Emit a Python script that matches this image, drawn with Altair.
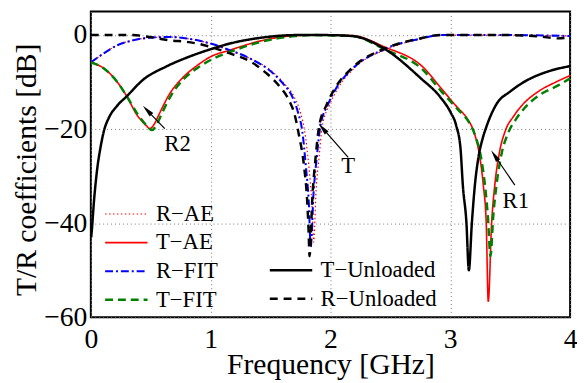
import altair as alt
import pandas as pd

FONT = "Times New Roman"
MINUS = "\u2212"

# ---------------- data ----------------
# T-Unloaded (black solid)
tu_f = [0.003, 0.01, 0.025, 0.052, 0.08, 0.11, 0.15, 0.217, 0.30, 0.436, 0.628, 0.82, 1.0, 1.16, 1.44, 1.71, 1.96, 2.18, 2.45, 2.75, 2.92, 3.0, 3.05, 3.085, 3.105, 3.135, 3.155, 3.18, 3.205, 3.235, 3.27, 3.30, 3.385, 3.5, 3.6, 3.82, 4.0]
tu_db = [-43, -41, -35.7, -28.7, -24, -20.3, -17.6, -15.1, -13, -9.5, -6.7, -4.6, -3.0, -1.8, -0.5, 0, 0, -0.2, -2.9, -9.1, -13.3, -16.3, -19.3, -24, -32, -40, -50, -40, -32, -26, -22, -19.6, -14.7, -12.0, -10.2, -7.7, -6.6]

# R-Unloaded (black dashed)
ru_f = [0, 0.35, 0.49, 0.655, 0.82, 1.0, 1.16, 1.33, 1.465, 1.575, 1.657, 1.70, 1.735, 1.78, 1.805, 1.818, 1.825, 1.85, 1.876, 1.904, 1.97, 2.04, 2.18, 2.45, 2.73, 2.92, 3.5, 3.75, 3.9, 4.0]
ru_db = [0, 0, -0.4, -1.1, -1.5, -2.5, -3.9, -5.6, -8.1, -10.9, -14, -16.8, -21, -28, -35, -42, -47, -34, -26, -19.6, -14.7, -11.2, -7.0, -2.9, -0.8, 0, 0, -0.3, -0.7, -0.5]

# T-AE (red solid)
ta_f = [0, 0.107, 0.217, 0.30, 0.38, 0.465, 0.49, 0.53, 0.57, 0.655, 0.765, 0.875, 1.0, 1.16, 1.44, 1.71, 1.85, 2.18, 2.45, 2.78, 2.92, 3.06, 3.14, 3.193, 3.24, 3.276, 3.30, 3.317, 3.345, 3.371, 3.41, 3.46, 3.53, 3.6, 3.74, 3.88, 4.0]
ta_db = [-5.8, -7.05, -9.85, -13, -16.8, -19.3, -19.9, -18.9, -16.8, -12.6, -9.1, -6.7, -4.6, -3.2, -1.1, -0.1, 0, -0.1, -2.5, -7.0, -11.2, -15.4, -17.7, -20.3, -25, -32, -40, -56.6, -40, -32, -25, -20.3, -17.2, -14.9, -11.9, -10.0, -8.6]

# T-FIT (green dashed)
tf_f = [0, 0.107, 0.217, 0.30, 0.39, 0.48, 0.51, 0.55, 0.59, 0.675, 0.785, 0.895, 1.0, 1.16, 1.44, 1.71, 1.85, 2.18, 2.45, 2.78, 2.92, 3.07, 3.15, 3.21, 3.26, 3.29, 3.315, 3.335, 3.36, 3.385, 3.43, 3.48, 3.55, 3.62, 3.76, 3.9, 4.0]
tf_db = [-5.8, -7.05, -9.85, -13, -16.8, -19.6, -20.2, -19.0, -16.8, -12.6, -9.1, -6.9, -5.3, -3.6, -1.3, -0.2, 0, -0.2, -3.0, -7.6, -11.8, -16.0, -18.3, -21.5, -26.5, -32, -39, -47, -38, -32, -25, -21, -17.8, -15.5, -12.5, -10.7, -9.2]

# R-FIT (blue dash-dot)
rf_f = [0, 0.107, 0.217, 0.354, 0.49, 0.655, 0.82, 1.0, 1.16, 1.33, 1.52, 1.60, 1.685, 1.73, 1.765, 1.795, 1.82, 1.835, 1.86, 1.886, 1.914, 1.98, 2.05, 2.19, 2.46, 2.74, 2.93, 3.5, 4.0]
rf_db = [-5.8, -3.9, -2.2, -1.1, -0.55, -0.4, -0.8, -1.8, -3.2, -5.0, -8.1, -10.2, -13.3, -16.5, -20.5, -28, -36, -45, -33, -26, -19.6, -14.7, -11.2, -7.0, -2.9, -0.8, 0, 0, -0.2]

# R-AE (red dotted)
ra_f = [0, 0.107, 0.217, 0.354, 0.49, 0.655, 0.82, 1.0, 1.16, 1.33, 1.53, 1.61, 1.70, 1.75, 1.785, 1.82, 1.845, 1.86, 1.88, 1.905, 1.93, 1.995, 2.065, 2.2, 2.48, 2.76, 2.95, 3.5, 4.0]
ra_db = [-5.8, -3.9, -2.2, -1.1, -0.55, -0.4, -0.8, -1.8, -3.2, -5.0, -8.1, -10.2, -13.3, -16.5, -20.5, -28, -36, -44, -33, -26, -19.6, -14.7, -11.2, -7.0, -2.9, -0.8, 0, 0, -0.2]

# annotations
ann_text = ["R2", "T", "R1"]
ann_x = [0.724, 2.148, 3.547]
ann_y = [-23.1, -27.9, -35.2]
arrow_tail_x = [0.617, 2.148, 3.539]
arrow_tail_y = [-19.9, -26.0, -31.9]
arrow_head_x = [0.470, 1.934, 3.370]
arrow_head_y = [-16.0, -19.8, -25.6]
arrow_angle = [316, 319, 326]

x_ticks = [0, 1, 2, 3, 4]
y_ticks = [-60, -40, -20, 0]

# ---------------- chart ----------------
def frame(name, f, db):
    return pd.DataFrame({"f": f, "dB": db, "series": name})

names_a = ["R" + MINUS + "AE", "T" + MINUS + "AE", "R" + MINUS + "FIT", "T" + MINUS + "FIT"]
data_a = [(ra_f, ra_db), (ta_f, ta_db), (rf_f, rf_db), (tf_f, tf_db)]
names_b = ["T" + MINUS + "Unloaded", "R" + MINUS + "Unloaded"]
data_b = [(tu_f, tu_db), (ru_f, ru_db)]

x_enc = alt.X("f:Q", scale=alt.Scale(domain=[0, 4], nice=False, zero=False),
              axis=alt.Axis(values=x_ticks, title="Frequency [GHz]", format="d"))
y_enc = alt.Y("dB:Q", scale=alt.Scale(domain=[-60, 5], nice=False, zero=False),
              axis=alt.Axis(values=y_ticks, title="T/R coefficients [dB]", format="d",
                            titleY=160))

leg_common = dict(orient="none", title=None, symbolType="stroke", symbolSize=1849,
                  labelFont=FONT, labelFontSize=23, labelColor="black",
                  clipHeight=28.5, rowPadding=0, labelOffset=7, padding=0,
                  direction="vertical", labelLimit=300)

leg_a = alt.Legend(legendX=13, legendY=191, **leg_common)
leg_b = alt.Legend(legendX=180, legendY=248, symbolStrokeColor="black",
                   symbolStrokeWidth=2.5, **leg_common)

color_a = alt.Color("series:N", scale=alt.Scale(domain=names_a,
                    range=["#ff0000", "#ff0000", "#0000ff", "#008000"]), legend=leg_a)
dash_a = alt.StrokeDash("series:N", scale=alt.Scale(domain=names_a,
                        range=[[1.5, 2.5], [1, 0], [8, 3, 2, 3], [8, 5]]), legend=leg_a)
width_a = alt.StrokeWidth("series:N", scale=alt.Scale(domain=names_a,
                          range=[1.2, 2.5, 2.5, 2.5]), legend=leg_a)

layers_a = [
    alt.Chart(frame(n, f, d)).mark_line(interpolate="monotone", clip=True).encode(
        x=x_enc, y=y_enc, color=color_a, strokeDash=dash_a, strokeWidth=width_a)
    for n, (f, d) in zip(names_a, data_a)
]

dash_b = alt.StrokeDash("series:N", scale=alt.Scale(domain=names_b,
                        range=[[1, 0], [8, 6]]), legend=leg_b)
layers_b = [
    alt.Chart(frame(n, f, d)).mark_line(interpolate="monotone", clip=True,
                                        color="black", strokeWidth=2.5).encode(
        x=x_enc, y=y_enc, strokeDash=dash_b)
    for n, (f, d) in zip(names_b, data_b)
]

ann_df = pd.DataFrame({"label": ann_text, "f": ann_x, "dB": ann_y})
arr_df = pd.DataFrame({"f": arrow_tail_x, "dB": arrow_tail_y,
                       "f2": arrow_head_x, "dB2": arrow_head_y, "ang": arrow_angle})

texts = alt.Chart(ann_df).mark_text(font=FONT, fontSize=23, color="black",
                                    align="center", baseline="middle").encode(
    x="f:Q", y="dB:Q", text="label:N")
shafts = alt.Chart(arr_df).mark_rule(color="black", strokeWidth=1.2).encode(
    x="f:Q", y="dB:Q", x2="f2:Q", y2="dB2:Q")
heads = alt.Chart(arr_df).mark_point(shape="M0,-1L0.4,1L-0.4,1Z", filled=True,
                                     color="black", size=160, opacity=1).encode(
    x="f2:Q", y="dB2:Q", angle=alt.Angle("ang:Q", scale=None))

chart = alt.layer(
    alt.layer(*layers_a), alt.layer(*layers_b), shafts, heads, texts
).resolve_scale(
    color="independent", strokeDash="independent", strokeWidth="independent"
).properties(
    width=486, height=310, padding={"left": 4, "top": 1, "right": 0, "bottom": 0}
).configure_view(
    stroke="black", strokeWidth=2
).configure_axis(
    labelFont=FONT, labelFontSize=28, labelColor="black",
    titleFont=FONT, titleFontSize=30, titleFontWeight="normal", titleColor="black",
    domain=False, ticks=False,
    grid=True, gridColor="#777777", gridDash=[1, 3], gridWidth=1, gridOpacity=1,
).configure_axisX(
    labelPadding=9, titlePadding=-4, labelFlush=False
).configure_axisY(
    labelPadding=4, titlePadding=2, labelFlush=False
)

chart.save("out.html", embed_options={"renderer": "svg", "actions": False})
